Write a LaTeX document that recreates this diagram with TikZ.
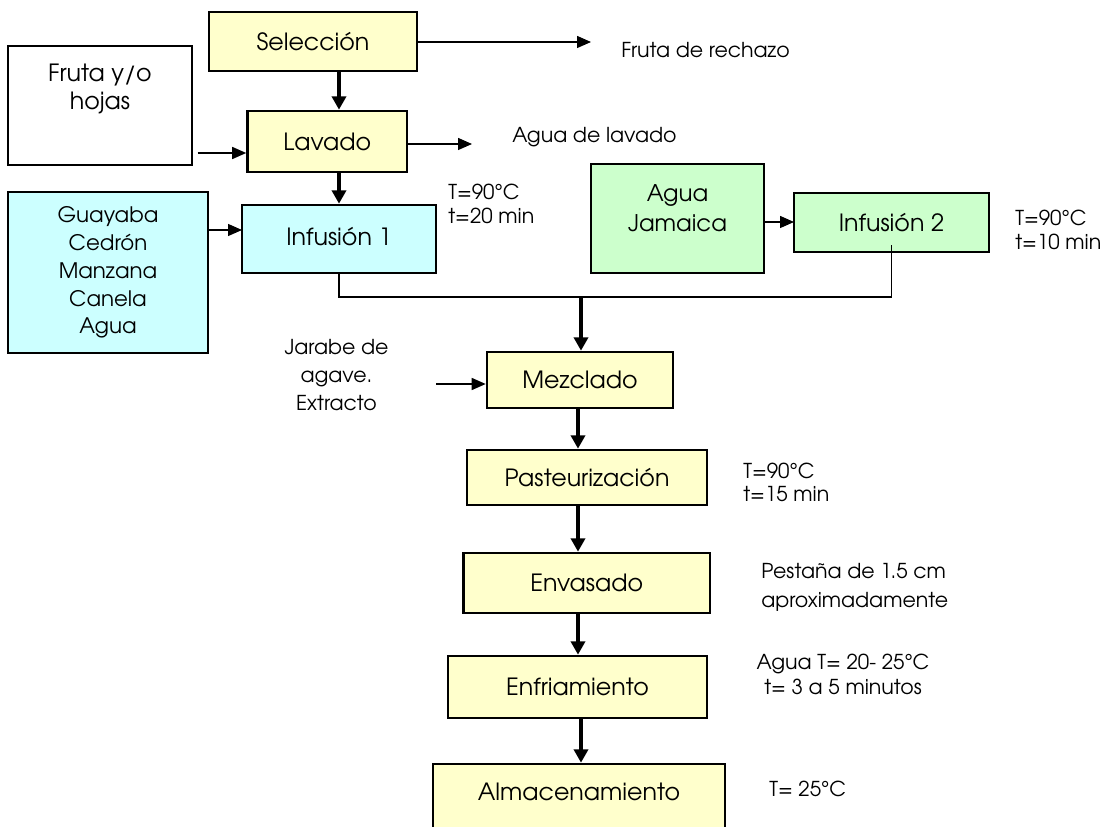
\documentclass[tikz,border=0pt]{standalone}
\usepackage{fontspec}
\setmainfont{TeX Gyre Adventor}
\usetikzlibrary{arrows.meta}
\definecolor{stagefill}{HTML}{FFFFCC}
\definecolor{infblue}{HTML}{CCFFFF}
\definecolor{infgreen}{HTML}{CCFFCC}
\begin{document}
\begin{tikzpicture}[x=0.75pt, y=-0.75pt,
  boxfont/.style={font=\fontsize{17.8}{21}\selectfont},
  sz/.style 2 args={minimum width={#1*0.75pt}, minimum height={#2*0.75pt}},
  stage/.style={draw, line width=1.95pt, inner sep=0pt, boxfont},
  feed/.style={draw, line width=1.35pt, inner sep=0pt, boxfont},
  note/.style={inner sep=0pt, anchor=west, align=left},
  flow/.style={line width=3pt, -{Triangle[length=10pt,width=10.5pt]}},
  side/.style={line width=1.05pt, -{Triangle[length=10.5pt,width=9pt]}},
  link/.style={line width=1.05pt},
]
\useasboundingbox (0,0) rectangle (1110,827);
\clip (0,0) rectangle (1110,827);

% process blocks
\node[stage, fill=stagefill, sz={208}{59}] (sel) at (313,41.5) {Selección};
\node[feed, fill=white, sz={184}{119}] (fruit) at (100,105.5) {};
\node[boxfont, align=center, inner sep=0pt] (fruittxt) at (100,89)
  {Fruta y/o\\hojas};
\node[stage, fill=stagefill, sz={159.5}{61}] (lav) at (327.25,141.5) {Lavado};
\node[stage, fill=infblue, sz={194}{68}] (inf1) at (339,239)
  {\raisebox{4.5pt}{Infusión 1}};
\node[feed, fill=infblue, sz={200}{161}, align=center,
  font=\fontsize{16}{20.85}\selectfont] (mix1) at (108,272.5)
  {Guayaba\\Cedrón\\Manzana\\Canela\\Agua};
\node[feed, fill=infgreen, line width=1.5pt, sz={173}{109}] (jam) at (677.5,218.5) {};
\node[align=center, inner sep=0pt, font=\fontsize{17.2}{22.5}\selectfont]
  (jamtxt) at (677.5,208) {Agua\\Jamaica};
\node[stage, fill=infgreen, sz={195}{59}] (inf2) at (891.5,222.5) {Infusión 2};
\node[stage, fill=stagefill, sz={186}{56}] (mez) at (580,380) {Mezclado};
\node[stage, fill=stagefill, sz={240}{55}] (pas) at (587,477.5) {Pasteurización};
\node[stage, fill=stagefill, sz={246.5}{60}] (env) at (586.75,583) {Envasado};
\node[stage, fill=stagefill, sz={259}{62}] (enf) at (577.5,687) {Enfriamiento};
\node[stage, fill=stagefill, sz={292}{106}] (alm) at (579,817) {};
\node[boxfont, inner sep=0pt] (almtxt) at (579,792) {Almacenamiento};

% side notes
\node[note, font=\fontsize{15.4}{18}\selectfont] (reject) at (621,50) {Fruta de rechazo};
\node[note, font=\fontsize{15.4}{18}\selectfont] (washwater) at (512,137) {Agua de lavado};
\node[note, font=\fontsize{15.4}{18}\selectfont] (cond1) at (448,204) {T=90°C\\t=20 min};
\node[note, font=\fontsize{15.4}{18}\selectfont] (cond2) at (1015,230) {T=90°C\\t=10 min};
\node[note, font=\fontsize{15.4}{17.5}\selectfont] (cond3) at (743,482.5) {T=90°C\\t=15 min};
\node[note, font=\fontsize{15.4}{21.5}\selectfont] (flange) at (761,587.5)
  {Pestaña de 1.5 cm\\aproximadamente};
\node[note, anchor=center, align=center, font=\fontsize{15.4}{18.75}\selectfont]
  (cool) at (843,674.5) {Agua T= 20- 25°C\\t= 3 a 5 minutos};
\node[note, font=\fontsize{15.4}{18}\selectfont] (store) at (769,789) {T= 25°C};
\node[align=center, inner sep=0pt, font=\fontsize{15.4}{21}\selectfont]
  (syrup) at (336.5,375) {Jarabe de\\agave.\\Extracto};

% connector helpers
\coordinate (colA) at (339,0);
\coordinate (colB) at (578,0);
\coordinate (colC) at (581,0);
\coordinate (rejtip) at (591,42);
\coordinate (washtip) at (472,144);
\coordinate (fruitout) at (197.5,153);
\coordinate (mix1in) at (242,230);
\coordinate (jamin) at (794,222);
\coordinate (join) at (581,297);
\coordinate (inf2tap) at (891.5,245);
\coordinate (syrupout) at (436,384);

% main line
\draw[flow] (colA |- sel.south) -- (colA |- lav.north);
\draw[flow] (colA |- lav.south) -- (colA |- inf1.north);
\draw[link] (colA |- inf1.south) -- (colA |- join) -- (join -| inf2tap) -- (inf2tap);
\draw[flow] (join) -- (join |- mez.north);
\draw[flow] (colB |- mez.south) -- (colB |- pas.north);
\draw[flow] (colB |- pas.south) -- (colB |- env.north);
\draw[flow] (colB |- env.south) -- (colB |- enf.north);
\draw[flow] (colC |- enf.south) -- (colC |- alm.north);

% side streams
\draw[side] (sel.east |- rejtip) -- (rejtip);
\draw[side] (lav.east |- washtip) -- (washtip);
\draw[side] (fruitout) -- (fruitout -| lav.west);
\draw[side] (mix1.east |- mix1in) -- (mix1in);
\draw[side] (jam.east |- jamin) -- (jamin);
\draw[side] (syrupout) -- (syrupout -| mez.west);
\end{tikzpicture}
\end{document}
